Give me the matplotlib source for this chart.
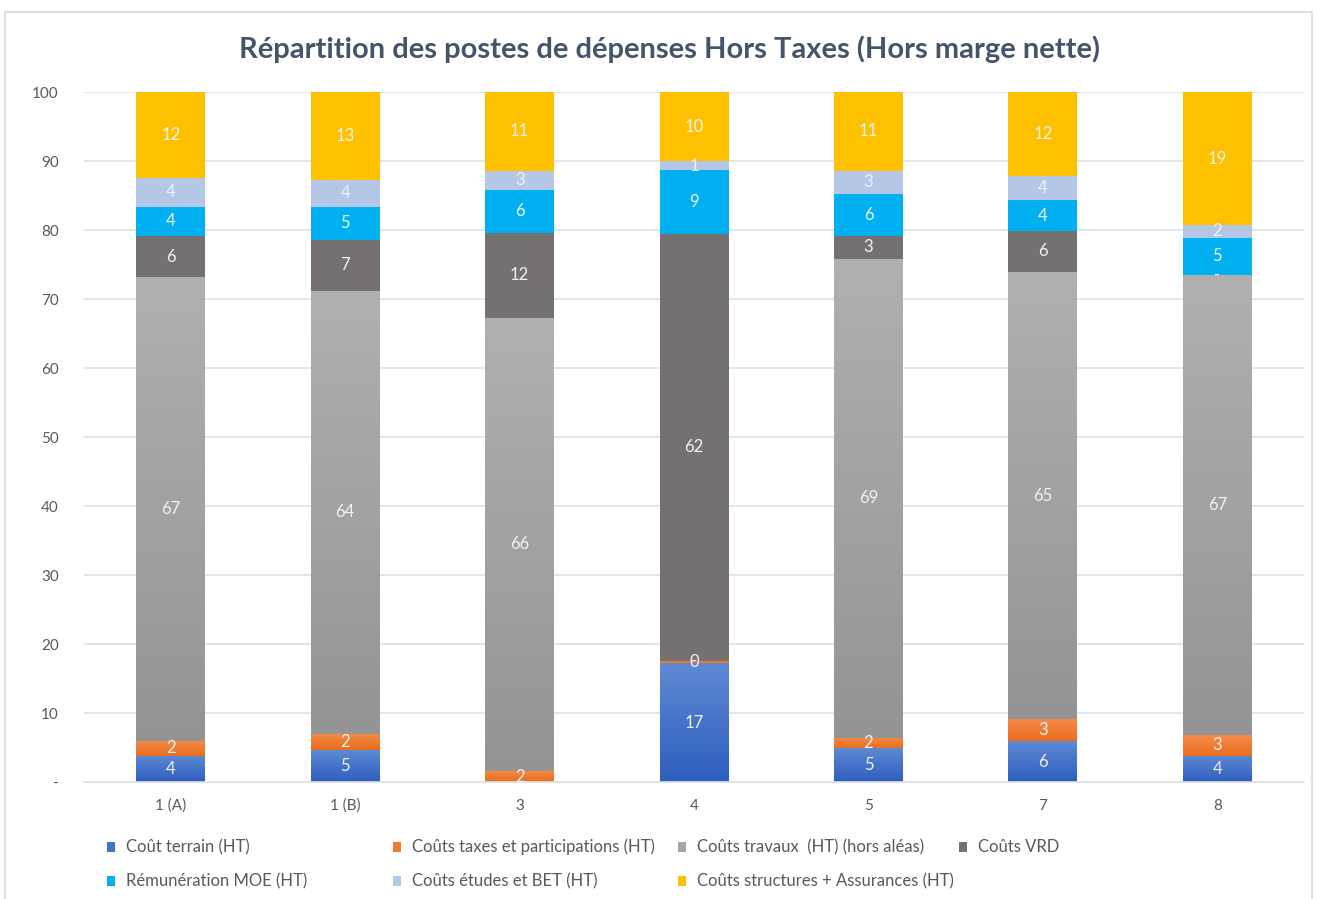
import numpy as np
import matplotlib
matplotlib.use("Agg")
import matplotlib.pyplot as plt
from matplotlib.colors import LinearSegmentedColormap
from matplotlib.patches import Rectangle

plt.rcParams['font.family'] = ['Lato', 'DejaVu Sans']

# categories and series values (percent)
categories = ['1 (A)', '1 (B)', '3', '4', '5', '7', '8']
cout_terrain = [3.8, 4.6, 0.0, 17.2, 4.9, 5.9, 3.8]
couts_taxes = [2.2, 2.4, 1.6, 0.4, 1.5, 3.2, 3.0]
couts_travaux = [67.2, 64.2, 65.7, 0.0, 69.4, 64.8, 66.7]
couts_vrd = [5.9, 7.4, 12.3, 61.9, 3.4, 6.0, 0.0]
remuneration_moe = [4.3, 4.8, 6.2, 9.2, 6.0, 4.4, 5.4]
couts_etudes = [4.1, 3.8, 2.8, 1.3, 3.4, 3.6, 1.8]
couts_structures = [12.5, 12.8, 11.4, 10.0, 11.4, 12.1, 19.3]

series_names = ['Coût terrain (HT)', 'Coûts taxes et participations (HT)',
                'Coûts travaux  (HT) (hors aléas)', 'Coûts VRD',
                'Rémunération MOE (HT)', 'Coûts études et BET (HT)',
                'Coûts structures + Assurances (HT)']
series = [cout_terrain, couts_taxes, couts_travaux, couts_vrd,
          remuneration_moe, couts_etudes, couts_structures]
colors = ['#4472C4', '#ED7D31', '#A5A5A5', '#767171', '#00B0F0', '#B4C7E7', '#FFC000']
# gradient fills (bottom, top) for the first three series
gradients = {0: ('#2E5EBE', '#5E89D4'), 1: ('#E86E1C', '#F58B4C'), 2: ('#949494', '#B0B0B0')}

fig = plt.figure(figsize=(13.17, 8.99), dpi=100)
ax = fig.add_axes([0.0635, 0.1301, 0.927, 0.7675])

# chart border
fig.patches.append(Rectangle((0.004, -0.01), 0.992, 0.9967, transform=fig.transFigure,
                             fill=False, edgecolor='#D9D9D9', linewidth=1.2))

x = np.arange(len(categories))
width = 0.395
bottom = np.zeros(len(categories))
grad = np.linspace(0, 1, 256).reshape(-1, 1)
for i, (vals, col) in enumerate(zip(series, colors)):
    vals = np.array(vals)
    bars = ax.bar(x, vals, width, bottom=bottom, color=col, label=series_names[i], zorder=2)
    if i in gradients:
        cmap = LinearSegmentedColormap.from_list('g%d' % i, gradients[i])
        for rect in bars:
            if rect.get_height() <= 0:
                continue
            x0, y0 = rect.get_x(), rect.get_y()
            im = ax.imshow(grad, extent=[x0, x0 + rect.get_width(), y0, y0 + rect.get_height()],
                           origin='lower', aspect='auto', cmap=cmap, zorder=2.5)
            im.set_clip_path(rect)
    labels = ['-' if v == 0 else '%d' % round(v) for v in vals]
    ax.bar_label(bars, labels=labels, label_type='center', color='#F2F2F2', fontsize=12, zorder=4)
    bottom += vals

ax.set_xlim(-0.5, len(categories) - 0.5)
ax.set_ylim(0, 100)
ax.set_yticks(np.arange(0, 101, 10))
ax.set_yticklabels(['-'] + [str(v) for v in range(10, 101, 10)])
ax.set_xticks(x)
ax.set_xticklabels(categories)
ax.tick_params(axis='both', length=0, labelsize=11, colors='#595959')
ax.tick_params(axis='y', pad=18)
ax.tick_params(axis='x', pad=12)
ax.grid(axis='y', color='#DCE1E8', linewidth=1.2, zorder=0)
ax.set_axisbelow(True)
for s in ['top', 'right', 'left']:
    ax.spines[s].set_visible(False)
ax.spines['bottom'].set_color('#DCE1E8')
ax.spines['bottom'].set_linewidth(1.2)

fig.text(0.508, 0.945, 'Répartition des postes de dépenses Hors Taxes (Hors marge nette)',
         ha='center', va='center', fontsize=21, fontweight='bold', color='#44546A')

# legend, laid out like the Excel one (4 columns, 2 rows)
leg_x = [0.0812, 0.2984, 0.5148, 0.7282]
leg_y = [0.0578, 0.0200]
for i, (name, col) in enumerate(zip(series_names, colors)):
    cx = leg_x[i % 4]
    cy = leg_y[i // 4]
    fig.patches.append(Rectangle((cx, cy - 0.0055), 0.0061, 0.0111, transform=fig.transFigure,
                                 facecolor=col, edgecolor='none'))
    fig.text(cx + 0.0145, cy, name, ha='left', va='center', fontsize=12, color='#595959')

fig.savefig('out.png', dpi=100)
